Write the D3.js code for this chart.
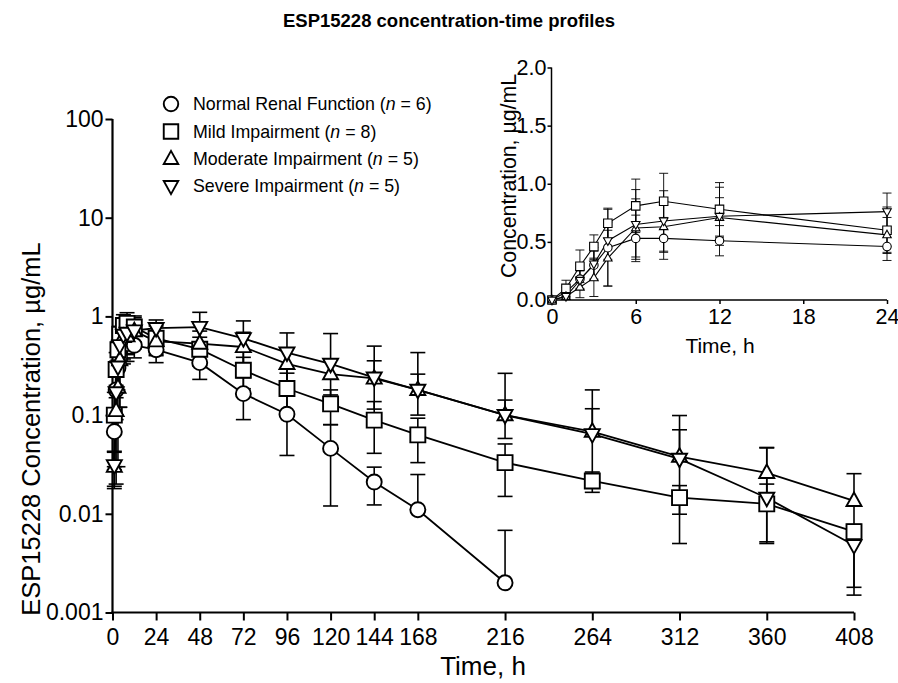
<!DOCTYPE html>
<html><head><meta charset="utf-8">
<script src="https://cdn.jsdelivr.net/npm/d3@7"></script>
<style>
body{margin:0;background:#fff}
svg{font-family:"Liberation Sans",Arial,Helvetica,sans-serif}
</style>
</head><body>
<svg id="chart" width="898" height="683"></svg>
<script>
// ---------- data ----------
const times = [0,1,2,3,4,6,8,12,24,48,72,96,120,144,168,216,264,312,360,408];

const normalMean   = [0,0.068,0.18,0.30,0.45,0.53,0.53,0.51,0.46,0.34,0.165,0.102,0.046,0.021,0.011,0.002,null,null,null,null];
const normalSD     = [0,0.04,0.08,0.12,0.33,0.20,0.18,0.13,0.12,0.11,0.075,0.063,0.034,0.0087,0.014,0.0048,null,null,null,null];

const mildMean     = [0,0.10,0.29,0.46,0.66,0.81,0.85,0.78,0.60,0.465,0.285,0.186,0.13,0.089,0.063,0.033,0.0215,0.0146,0.0126,0.0066];
const mildSD       = [0,0.07,0.14,0.10,0.13,0.23,0.24,0.23,0.20,0.15,0.10,0.08,0.05,0.048,0.03,0.018,0.005,0.0047,0.0074,0.001];

const moderateMean = [0,0.03,0.11,0.19,0.36,0.62,0.63,0.71,0.56,0.53,0.49,0.33,0.26,0.235,0.18,0.10,0.068,0.038,0.026,0.0135];
const moderateSD   = [0,0.012,0.09,0.16,0.24,0.25,0.22,0.17,0.15,0.18,0.20,0.15,0.10,0.12,0.08,0.042,0.048,0.033,0.021,0.012];

const severeMean   = [0,0.031,0.17,0.31,0.51,0.65,0.68,0.72,0.76,0.78,0.60,0.43,0.33,0.24,0.18,0.10,0.064,0.036,0.0145,0.0048];
const severeSD     = [0,0.012,0.08,0.14,0.16,0.30,0.26,0.25,0.16,0.32,0.30,0.25,0.34,0.26,0.25,0.165,0.116,0.063,0.032,0.003];

const seriesNames  = ["Normal Renal Function","Mild Impairment","Moderate Impairment","Severe Impairment"];
const seriesN      = [6,8,5,5];
const seriesShapes = ["circle","square","triangle","triangleDown"];

const mainXTicks = [0,24,48,72,96,120,144,168,216,264,312,360,408];
const mainYTicks = [0.001,0.01,0.1,1,10,100];
const mainYTickLabels = ["0.001","0.01","0.1","1","10","100"];
const insetXTicks = [0,6,12,18,24];
const insetYTicks = [0,0.5,1.0,1.5,2.0];

const titleText = "ESP15228 concentration-time profiles";
const mainYLabel = "ESP15228 Concentration, µg/mL";
const mainXLabel = "Time, h";
const insetYLabel = "Concentration, µg/mL";
const insetXLabel = "Time, h";

// ---------- build ----------
const means = [normalMean, mildMean, moderateMean, severeMean];
const sds = [normalSD, mildSD, moderateSD, severeSD];
const series = seriesNames.map((name,i)=>({
  name, n: seriesN[i], shape: seriesShapes[i],
  pts: times.map((t,j)=>({t, m: means[i][j], sd: sds[i][j]})).filter(p=>p.m!==null)
}));

const svg = d3.select("#chart");

function shapePath(shape, s){
  const h = s/2;
  if(shape==="square") return `M${-h},${-h}H${h}V${h}H${-h}Z`;
  const th = s*0.9;
  if(shape==="triangle") return `M0,${-th*0.62}L${h},${th*0.38}L${-h},${th*0.38}Z`;
  if(shape==="triangleDown") return `M0,${th*0.62}L${h},${-th*0.38}L${-h},${-th*0.38}Z`;
}
function drawMarker(g, shape, x, y, s, sw){
  if(shape==="circle"){
    g.append("circle").attr("cx",x).attr("cy",y).attr("r",s/2)
      .attr("fill","#fff").attr("stroke","#000").attr("stroke-width",sw);
  } else {
    g.append("path").attr("d",shapePath(shape,s)).attr("transform",`translate(${x},${y})`)
      .attr("fill","#fff").attr("stroke","#000").attr("stroke-width",sw);
  }
}

// title
svg.append("text").attr("x",449).attr("y",27).attr("text-anchor","middle")
  .attr("font-size",18.5).attr("font-weight","bold").text(titleText);

// ---------- main chart ----------
const x = d3.scaleLinear().domain([0,408]).range([112.5,854]);
const y = d3.scaleLog().domain([0.001,100]).range([612.5,119]);

const main = svg.append("g");

const xAxis = main.append("g").attr("transform","translate(0,612.5)")
  .call(d3.axisBottom(x).tickValues(mainXTicks).tickFormat(d3.format("d")).tickSizeOuter(0).tickSize(8).tickPadding(8));
const yAxis = main.append("g").attr("transform","translate(112.5,0)")
  .call(d3.axisLeft(y).tickValues(mainYTicks).tickFormat((d,i)=>mainYTickLabels[i]).tickSizeOuter(0).tickSize(7).tickPadding(2));
[xAxis,yAxis].forEach(a=>{
  a.select(".domain").attr("stroke-width",2.2);
  a.selectAll(".tick line").attr("stroke-width",2);
  a.selectAll(".tick text").attr("font-size",23).attr("fill","#000")
    .attr("font-family","'Liberation Sans',Arial,sans-serif");
});
yAxis.select(".domain").attr("d","M0,119V613.6");
xAxis.select(".domain").attr("d","M111.4,0H854");

main.append("text").attr("x",483).attr("y",675).attr("text-anchor","middle")
  .attr("font-size",26).text(mainXLabel);
main.append("text").attr("transform","translate(40,429) rotate(-90)").attr("text-anchor","middle")
  .attr("font-size",25.5).text(mainYLabel);

const mainData = main.append("g");
const capW = 7.5;
series.forEach(s=>{
  const pts = s.pts.filter(p=>p.m>0);
  pts.forEach(p=>{
    const cx = x(p.t), up = p.m + p.sd, lo = p.m - p.sd;
    const yc = y(p.m), yu = y(up);
    mainData.append("line").attr("x1",cx).attr("x2",cx).attr("y1",yc).attr("y2",yu).attr("stroke","#000").attr("stroke-width",1.6);
    mainData.append("line").attr("x1",cx-capW).attr("x2",cx+capW).attr("y1",yu).attr("y2",yu).attr("stroke","#000").attr("stroke-width",1.6);
    if(lo>0){
      const yl = y(lo);
      mainData.append("line").attr("x1",cx).attr("x2",cx).attr("y1",yc).attr("y2",yl).attr("stroke","#000").attr("stroke-width",1.6);
      mainData.append("line").attr("x1",cx-capW).attr("x2",cx+capW).attr("y1",yl).attr("y2",yl).attr("stroke","#000").attr("stroke-width",1.6);
    }
  });
});
series.forEach(s=>{
  const pts = s.pts.filter(p=>p.m>0);
  mainData.append("path").datum(pts)
    .attr("d",d3.line().x(p=>x(p.t)).y(p=>y(p.m)))
    .attr("fill","none").attr("stroke","#000").attr("stroke-width",1.8);
});
series.forEach(s=>{
  s.pts.filter(p=>p.m>0).forEach(p=>drawMarker(mainData, s.shape, x(p.t), y(p.m), 15, 1.9));
});

// legend
const legend = svg.append("g");
const legY = [104,131.5,159,186];
series.forEach((s,i)=>{
  drawMarker(legend, s.shape, 171, legY[i], 14.5, 1.9);
  const t = legend.append("text").attr("x",193).attr("y",legY[i]).attr("dy","0.36em").attr("font-size",17.8);
  t.append("tspan").text(`${s.name} (`);
  t.append("tspan").attr("font-style","italic").text("n");
  t.append("tspan").text(` = ${s.n})`);
});

// ---------- inset ----------
const xi = d3.scaleLinear().domain([0,24]).range([552,887]);
const yi = d3.scaleLinear().domain([0,2]).range([300,67.5]);
const inset = svg.append("g");
const xiAxis = inset.append("g").attr("transform","translate(0,300)")
  .call(d3.axisBottom(xi).tickValues(insetXTicks).tickFormat(d3.format("d")).tickSizeOuter(0).tickSize(4).tickPadding(5));
const yiAxis = inset.append("g").attr("transform","translate(551.5,0)")
  .call(d3.axisLeft(yi).tickValues(insetYTicks).tickFormat(d3.format(".1f")).tickSizeOuter(0).tickSize(4).tickPadding(1));
[xiAxis,yiAxis].forEach(a=>{
  a.select(".domain").attr("stroke-width",1.5);
  a.selectAll(".tick line").attr("stroke-width",1.5);
  a.selectAll(".tick text").attr("font-size",21.5).attr("fill","#000")
    .attr("font-family","'Liberation Sans',Arial,sans-serif");
});
yiAxis.select(".domain").attr("d","M0,67.5V300.7");
xiAxis.select(".domain").attr("d","M551,0H887");
inset.append("text").attr("x",720).attr("y",353).attr("text-anchor","middle")
  .attr("font-size",21).text(insetXLabel);
inset.append("text").attr("transform","translate(516,176) rotate(-90)").attr("text-anchor","middle")
  .attr("font-size",21.3).text(insetYLabel);

const insetData = inset.append("g");
const capWi = 4.5;
series.forEach(s=>{
  s.pts.filter(p=>p.t<=24 && p.t>0).forEach(p=>{
    const cx = xi(p.t), yu = yi(p.m+p.sd), yl = yi(Math.max(0,p.m-p.sd));
    insetData.append("line").attr("x1",cx).attr("x2",cx).attr("y1",yu).attr("y2",yl).attr("stroke","#000").attr("stroke-width",0.9);
    insetData.append("line").attr("x1",cx-capWi).attr("x2",cx+capWi).attr("y1",yu).attr("y2",yu).attr("stroke","#000").attr("stroke-width",0.9);
    insetData.append("line").attr("x1",cx-capWi).attr("x2",cx+capWi).attr("y1",yl).attr("y2",yl).attr("stroke","#000").attr("stroke-width",0.9);
  });
});
series.forEach(s=>{
  const pts = s.pts.filter(p=>p.t<=24);
  insetData.append("path").datum(pts)
    .attr("d",d3.line().x(p=>xi(p.t)).y(p=>yi(p.m)))
    .attr("fill","none").attr("stroke","#000").attr("stroke-width",1.1);
});
series.forEach(s=>{
  s.pts.filter(p=>p.t<=24).forEach(p=>drawMarker(insetData, s.shape, xi(p.t), yi(p.m), 8.5, 1.1));
});
</script>
</body></html>
